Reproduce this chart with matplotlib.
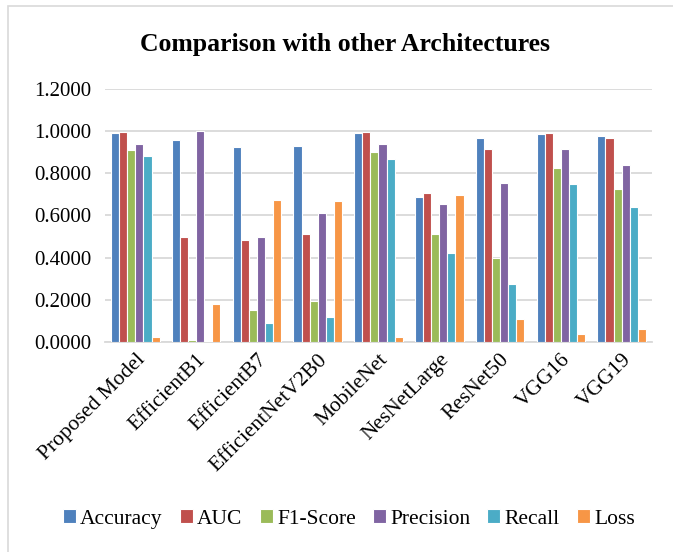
import numpy as np
import matplotlib.pyplot as plt
from matplotlib.patches import Rectangle

# data
models = ["Proposed Model", "EfficientB1", "EfficientB7", "EfficientNetV2B0",
          "MobileNet", "NesNetLarge", "ResNet50", "VGG16", "VGG19"]
accuracy = [0.993, 0.958, 0.923, 0.930, 0.991, 0.690, 0.966, 0.987, 0.979]
auc = [0.998, 0.497, 0.483, 0.514, 0.998, 0.709, 0.914, 0.993, 0.968]
f1_score = [0.909, 0.010, 0.150, 0.196, 0.901, 0.513, 0.399, 0.824, 0.728]
precision = [0.941, 1.000, 0.499, 0.611, 0.941, 0.655, 0.756, 0.914, 0.841]
recall = [0.881, 0.005, 0.088, 0.117, 0.867, 0.421, 0.273, 0.748, 0.639]
loss = [0.022, 0.182, 0.674, 0.669, 0.022, 0.698, 0.107, 0.036, 0.063]

series = [("Accuracy", accuracy, "#4F81BD"),
          ("AUC", auc, "#C0504D"),
          ("F1-Score", f1_score, "#9BBB59"),
          ("Precision", precision, "#8064A2"),
          ("Recall", recall, "#4BACC6"),
          ("Loss", loss, "#F79646")]

plt.rcParams['font.family'] = ['Liberation Serif', 'DejaVu Serif']

fig = plt.figure(figsize=(6.73, 5.52), dpi=100)
ax = fig.add_axes([105 / 673, 210 / 552, 547 / 673, 253 / 552])

# light chart border (top and left; the rest is cropped off)
fig.patches.append(Rectangle((8 / 673, -0.01), 0.1 + 665 / 673, 1 - 6 / 552 + 0.01,
                             transform=fig.transFigure, fill=False,
                             edgecolor="#d9d9d9", linewidth=1.2))

x = np.arange(len(models))
slot = 0.133
for i, (name, vals, color) in enumerate(series):
    offs = (i - 2.5) * slot
    ax.bar(x + offs, vals, width=slot, color=color, edgecolor="white",
           linewidth=0.8, label=name, zorder=3)

ax.set_xlim(-0.5, len(models) - 0.5)
ax.set_ylim(0, 1.2)
ax.set_yticks(np.arange(0, 1.21, 0.2))
ax.set_yticklabels([f"{v:.4f}" for v in np.arange(0, 1.21, 0.2)], fontsize=15)
ax.yaxis.grid(True, color="#d9d9d9", linewidth=1.3, zorder=0)
ax.tick_params(axis="y", length=0, pad=10)
ax.tick_params(axis="x", length=0, pad=6)

ax.set_xticks(x)
ax.set_xticklabels(models, rotation=45, ha="right", rotation_mode="anchor",
                   fontsize=15.5)

for s in ["top", "right", "left"]:
    ax.spines[s].set_visible(False)
ax.spines["bottom"].set_color("#d9d9d9")
ax.spines["bottom"].set_linewidth(1.3)

fig.text(345 / 673, 1 - 44 / 552, "Comparison with other Architectures",
         ha="center", va="center", fontsize=18.5, fontweight="bold")

ax.legend(loc="center", bbox_to_anchor=(349 / 673, 1 - 519 / 552, 0, 0),
          bbox_transform=fig.transFigure, ncol=6, frameon=False, fontsize=15.5,
          handlelength=0.6, handleheight=0.6, handletextpad=0.2,
          columnspacing=0.8)

fig.savefig("out.png", dpi=100)
